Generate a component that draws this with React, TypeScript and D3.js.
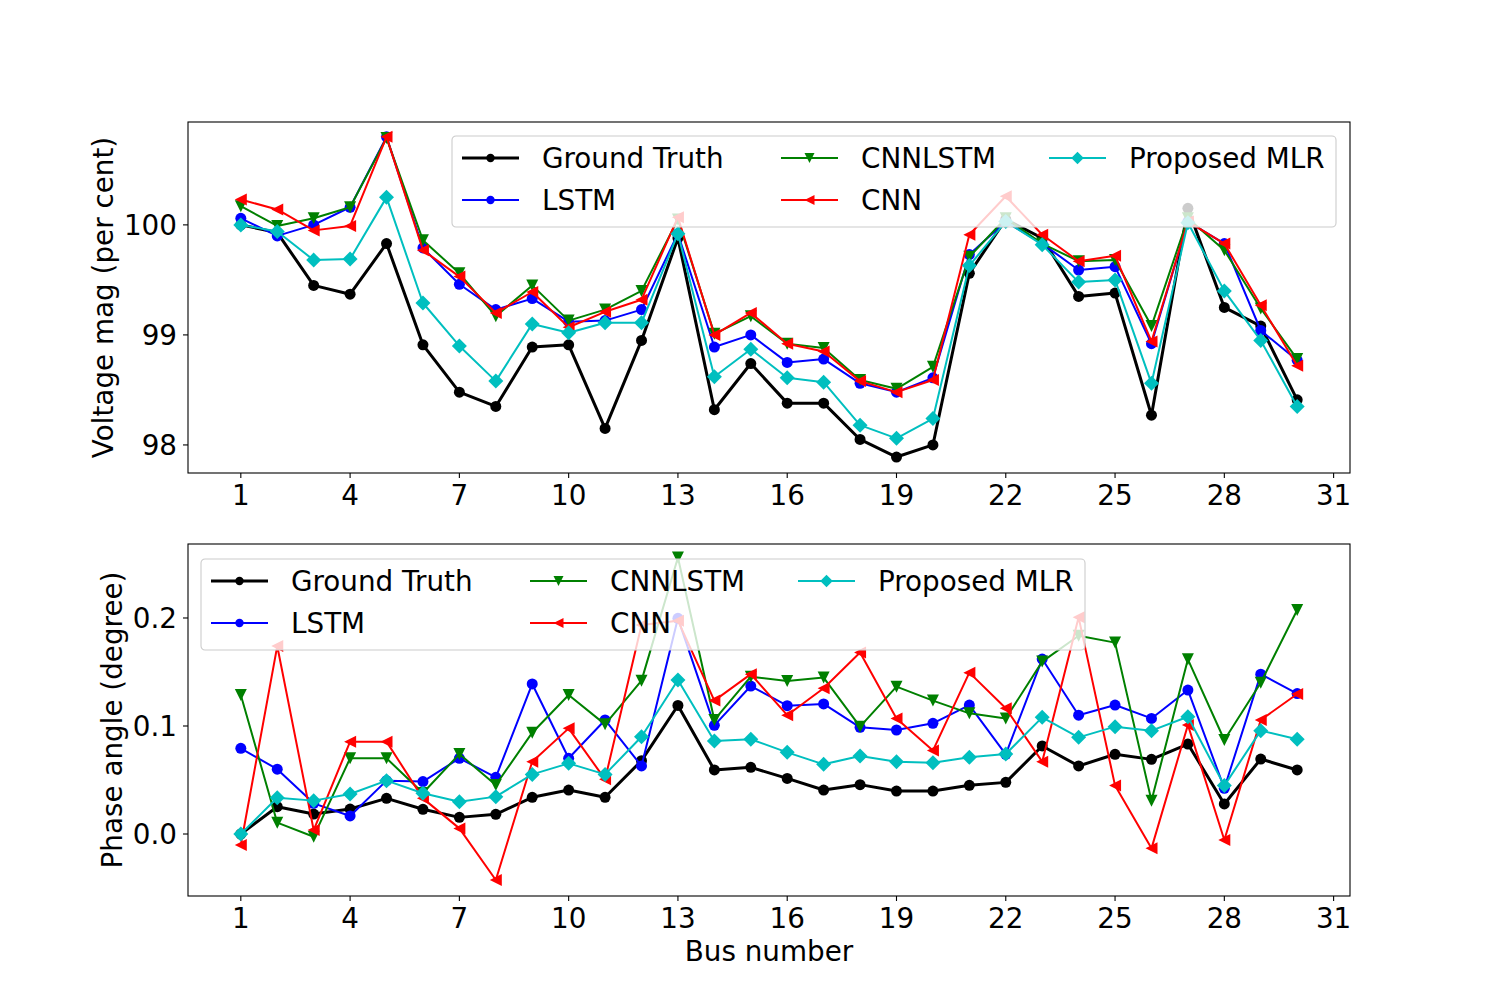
import * as d3 from "d3";

// bus numbers on the x axis
const buses = [1, 2, 3, 4, 5, 6, 7, 8, 9, 10, 11, 12, 13, 14, 15, 16, 17, 18, 19, 20, 21, 22, 23, 24, 25, 26, 27, 28, 29, 30];
const xTicks = [1, 4, 7, 10, 13, 16, 19, 22, 25, 28, 31];

// voltage magnitude (per cent)
const vmGroundTruth = [100.0, 99.93, 99.45, 99.37, 99.83, 98.91, 98.48, 98.35, 98.89, 98.91, 98.15, 98.95, 99.88, 98.32, 98.74, 98.38, 98.38, 98.05, 97.89, 98.0, 99.56, 100.05, 99.88, 99.35, 99.38, 98.27, 100.15, 99.25, 99.08, 98.41];
const vmLstm = [100.06, 99.9, 100.0, 100.16, 100.8, 99.79, 99.46, 99.23, 99.33, 99.12, 99.13, 99.23, 99.92, 98.89, 99.0, 98.75, 98.78, 98.56, 98.48, 98.61, 99.73, 100.03, 99.83, 99.59, 99.62, 98.92, 100.03, 99.83, 99.04, 98.77];
const vmCnnLstm = [100.17, 99.99, 100.06, 100.16, 100.79, 99.86, 99.56, 99.17, 99.45, 99.13, 99.23, 99.4, 100.05, 99.01, 99.17, 98.92, 98.88, 98.59, 98.51, 98.71, 99.71, 100.06, 99.83, 99.67, 99.68, 99.08, 100.06, 99.77, 99.24, 98.78];
const vmCnn = [100.23, 100.14, 99.95, 99.99, 100.8, 99.77, 99.53, 99.2, 99.39, 99.07, 99.21, 99.32, 100.07, 99.0, 99.2, 98.92, 98.85, 98.58, 98.48, 98.59, 99.91, 100.26, 99.91, 99.67, 99.72, 98.94, 100.03, 99.83, 99.27, 98.72];
const vmMlr = [100.0, 99.94, 99.68, 99.69, 100.25, 99.29, 98.9, 98.58, 99.1, 99.02, 99.11, 99.11, 99.92, 98.62, 98.87, 98.61, 98.57, 98.18, 98.06, 98.24, 99.63, 100.03, 99.82, 99.48, 99.5, 98.56, 100.02, 99.4, 98.95, 98.35];
const vmTicks = [98, 99, 100];

// phase angle (degree)
const paGroundTruth = [0.0, 0.0253, 0.0185, 0.0231, 0.033, 0.0229, 0.0154, 0.0182, 0.034, 0.0407, 0.034, 0.0679, 0.119, 0.0593, 0.0617, 0.0515, 0.0407, 0.0457, 0.0398, 0.0398, 0.0451, 0.0478, 0.0815, 0.063, 0.0738, 0.0691, 0.0833, 0.0278, 0.0694, 0.0593];
const paLstm = [0.0793, 0.06, 0.0284, 0.0167, 0.0494, 0.0485, 0.0701, 0.0525, 0.1389, 0.0701, 0.1056, 0.063, 0.1997, 0.1006, 0.137, 0.1188, 0.1204, 0.0988, 0.0963, 0.1025, 0.1194, 0.0738, 0.162, 0.11, 0.1194, 0.107, 0.1333, 0.0423, 0.148, 0.13];
const paCnnLstm = [0.1287, 0.0105, -0.0025, 0.0701, 0.0701, 0.038, 0.074, 0.0454, 0.0938, 0.1287, 0.1015, 0.142, 0.256, 0.1056, 0.1457, 0.1417, 0.1448, 0.0994, 0.1364, 0.1235, 0.1117, 0.107, 0.1596, 0.1836, 0.1772, 0.0309, 0.1617, 0.087, 0.14, 0.2074];
const paCnn = [-0.0102, 0.174, 0.0037, 0.0855, 0.0855, 0.033, 0.0052, -0.0426, 0.067, 0.0978, 0.0506, 0.1935, 0.1975, 0.1235, 0.148, 0.11, 0.135, 0.168, 0.107, 0.0772, 0.1494, 0.1164, 0.067, 0.2006, 0.0448, -0.0133, 0.1009, -0.0056, 0.1056, 0.1296];
const paMlr = [0.0, 0.0336, 0.0309, 0.037, 0.0494, 0.0377, 0.0299, 0.0346, 0.0552, 0.0654, 0.0552, 0.09, 0.1426, 0.0861, 0.0877, 0.0756, 0.0645, 0.0722, 0.067, 0.066, 0.071, 0.074, 0.108, 0.0895, 0.0994, 0.0957, 0.1086, 0.0448, 0.0957, 0.0877];
const paTicks = [0.0, 0.1, 0.2];

const seriesNames = ["Ground Truth", "LSTM", "CNNLSTM", "CNN", "Proposed MLR"];

type Marker = "circle" | "down" | "left" | "diamond";

type Series = {
  name: string;
  color: string;
  marker: Marker;
  lineWidth: number;
  values: number[];
};

const styles: { color: string; marker: Marker; lineWidth: number }[] = [
  { color: "#000000", marker: "circle", lineWidth: 3 },
  { color: "#0000ff", marker: "circle", lineWidth: 2 },
  { color: "#008000", marker: "down", lineWidth: 2 },
  { color: "#ff0000", marker: "left", lineWidth: 2 },
  { color: "#00bfbf", marker: "diamond", lineWidth: 2 },
];

function buildSeries(values: number[][]): Series[] {
  return values.map((v, i) => ({ name: seriesNames[i], ...styles[i], values: v }));
}

const FONT = "DejaVu Sans, sans-serif";
const FS = 27.8;
const AX_LEFT = 188;
const AX_RIGHT = 1350;

function markerShape(kind: Marker, x: number, y: number, r: number, color: string, key?: string | number) {
  if (kind === "circle") {
    return <circle key={key} cx={x} cy={y} r={r} fill={color} />;
  }
  let d = "";
  if (kind === "down") {
    d = `M${x - r},${y - r}L${x + r},${y - r}L${x},${y + r}Z`;
  } else if (kind === "left") {
    d = `M${x + r},${y - r}L${x + r},${y + r}L${x - r},${y}Z`;
  } else {
    const h = r * 1.25;
    d = `M${x},${y - h}L${x + h},${y}L${x},${y + h}L${x - h},${y}Z`;
  }
  return <path key={key} d={d} fill={color} />;
}

type PanelProps = {
  top: number;
  bottom: number;
  domain: [number, number];
  yTicks: number[];
  yFormat: (v: number) => string;
  yLabel: string;
  yLabelX: number;
  series: Series[];
  legendX: number;
  legendY: number;
  xLabel?: string;
};

function Panel({ top, bottom, domain, yTicks, yFormat, yLabel, yLabelX, series, legendX, legendY, xLabel }: PanelProps) {
  const x = d3.scaleLinear().domain([-0.45, 31.45]).range([AX_LEFT, AX_RIGHT]);
  const y = d3.scaleLinear().domain(domain).range([bottom, top]);
  const line = d3
    .line<number>()
    .x((_, i) => x(buses[i]))
    .y((v) => y(v));

  // legend columns (matplotlib ncol=3, filled column-wise)
  const colOffsets = [0, 319, 587];

  return (
    <g>
      {series.map((s) => (
        <g key={s.name}>
          <path d={line(s.values) ?? ""} fill="none" stroke={s.color} strokeWidth={s.lineWidth} strokeLinejoin="round" />
          {s.values.map((v, i) => markerShape(s.marker, x(buses[i]), y(v), s.marker === "circle" ? 5.5 : 6, s.color, i))}
        </g>
      ))}

      <rect x={AX_LEFT} y={top} width={AX_RIGHT - AX_LEFT} height={bottom - top} fill="none" stroke="#000" strokeWidth={1.1} />

      {xTicks.map((t) => (
        <g key={t}>
          <line x1={x(t)} x2={x(t)} y1={bottom} y2={bottom + 5} stroke="#000" strokeWidth={1.1} />
          <text x={x(t)} y={bottom + 32} textAnchor="middle" fontFamily={FONT} fontSize={FS}>
            {t}
          </text>
        </g>
      ))}

      {yTicks.map((t) => (
        <g key={t}>
          <line x1={AX_LEFT - 5} x2={AX_LEFT} y1={y(t)} y2={y(t)} stroke="#000" strokeWidth={1.1} />
          <text x={AX_LEFT - 11} y={y(t)} dy="0.36em" textAnchor="end" fontFamily={FONT} fontSize={FS}>
            {yFormat(t)}
          </text>
        </g>
      ))}

      <text
        transform={`translate(${yLabelX},${(top + bottom) / 2}) rotate(-90)`}
        textAnchor="middle"
        dy="0.36em"
        fontFamily={FONT}
        fontSize={FS}
      >
        {yLabel}
      </text>

      {xLabel && (
        <text x={(AX_LEFT + AX_RIGHT) / 2} y={bottom + 65} textAnchor="middle" fontFamily={FONT} fontSize={FS}>
          {xLabel}
        </text>
      )}

      <g transform={`translate(${legendX},${legendY})`}>
        <rect x={0} y={0} width={884} height={91} rx={4} fill="#fff" fillOpacity={0.8} stroke="#cccccc" strokeWidth={1.1} />
        {series.map((s, i) => {
          const col = Math.floor(i / 2);
          const row = i % 2;
          const lx = colOffsets[col];
          const ly = row === 0 ? 22 : 64;
          return (
            <g key={s.name}>
              <line x1={lx + 10} x2={lx + 67} y1={ly} y2={ly} stroke={s.color} strokeWidth={s.lineWidth} />
              {markerShape(s.marker, lx + 38.5, ly, s.marker === "circle" ? 4.2 : 5, s.color)}
              <text x={lx + 90} y={ly} dy="0.36em" fontFamily={FONT} fontSize={FS}>
                {s.name}
              </text>
            </g>
          );
        })}
      </g>
    </g>
  );
}

export default function App() {
  const vmSeries = buildSeries([vmGroundTruth, vmLstm, vmCnnLstm, vmCnn, vmMlr]);
  const paSeries = buildSeries([paGroundTruth, paLstm, paCnnLstm, paCnn, paMlr]);

  return (
    <svg width={1500} height={1007} style={{ position: "absolute", left: 0, top: 0, background: "#fff" }}>
      <rect width={1500} height={1007} fill="#fff" />
      <Panel
        top={122}
        bottom={473}
        domain={[97.745, 100.935]}
        yTicks={vmTicks}
        yFormat={(v) => String(v)}
        yLabel="Voltage mag (per cent)"
        yLabelX={103}
        series={vmSeries}
        legendX={452}
        legendY={136}
      />
      <Panel
        top={544}
        bottom={896}
        domain={[-0.0574, 0.2685]}
        yTicks={paTicks}
        yFormat={(v) => v.toFixed(1)}
        yLabel="Phase angle (degree)"
        yLabelX={112}
        series={paSeries}
        legendX={201}
        legendY={559}
        xLabel="Bus number"
      />
    </svg>
  );
}
